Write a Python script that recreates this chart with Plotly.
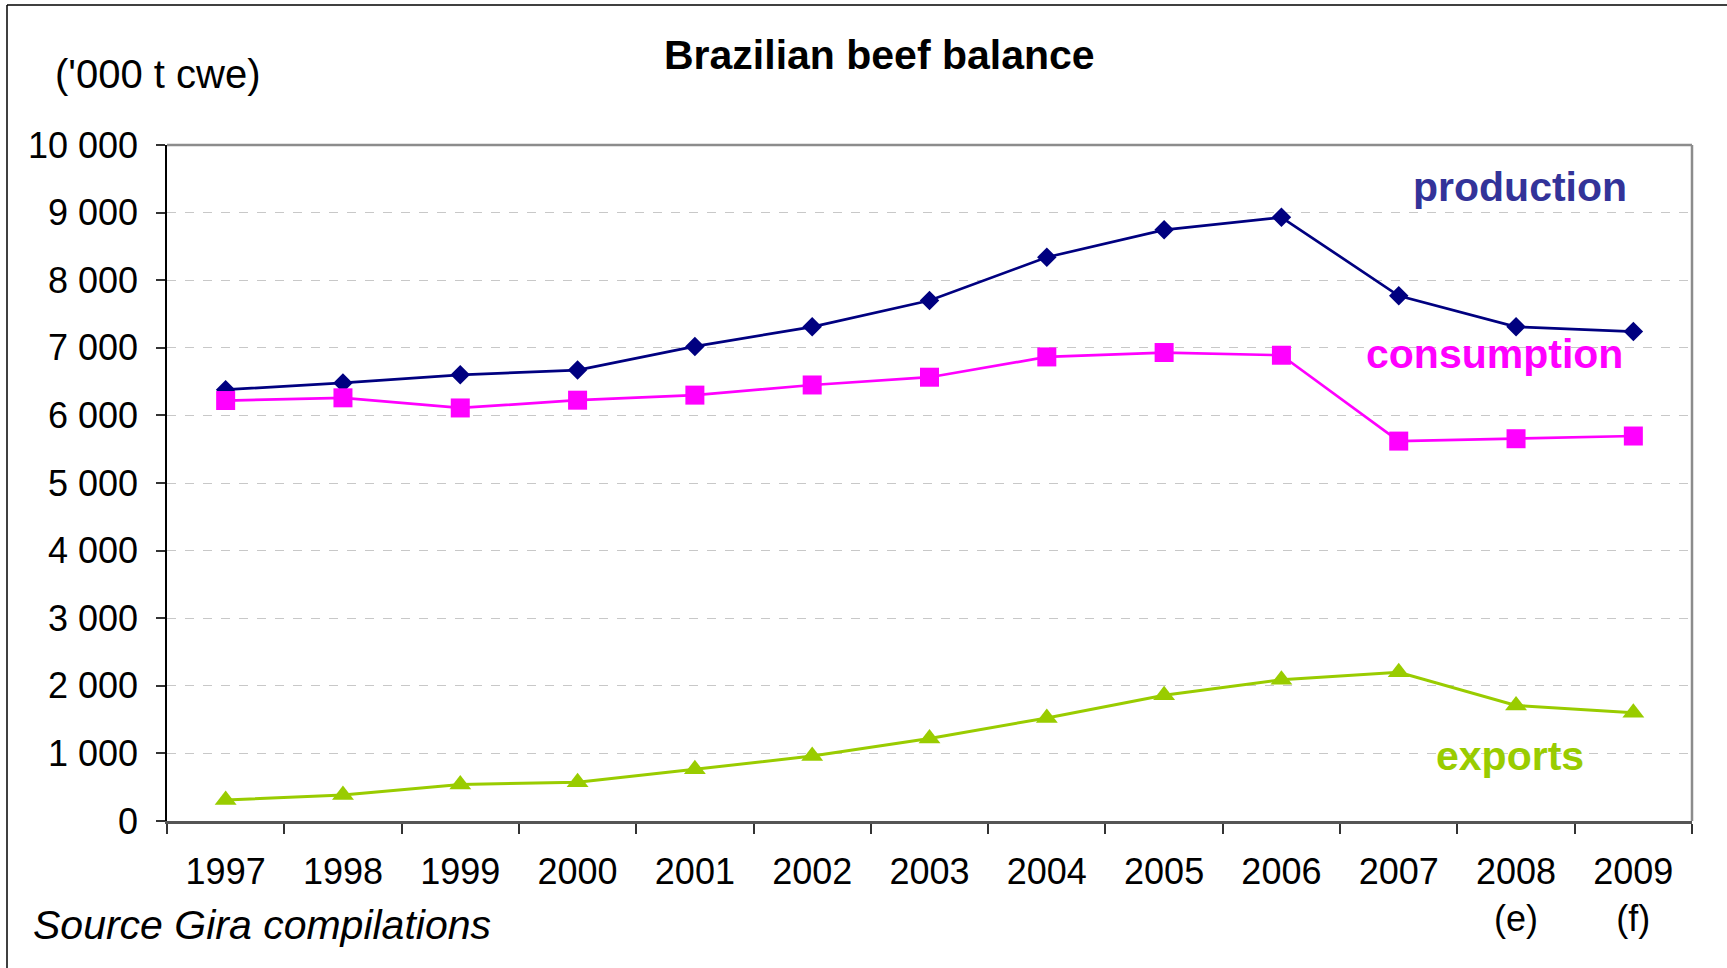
import plotly.graph_objects as go

# Brazilian beef balance, '000 t carcass weight equivalent
years = ["1997", "1998", "1999", "2000", "2001", "2002", "2003",
         "2004", "2005", "2006", "2007", "2008", "2009"]
year_labels = ["1997", "1998", "1999", "2000", "2001", "2002", "2003",
               "2004", "2005", "2006", "2007", "2008<br>(e)", "2009<br>(f)"]
production = [6380, 6480, 6600, 6670, 7020, 7310, 7700,
              8340, 8745, 8930, 7770, 7310, 7240]
consumption = [6220, 6260, 6110, 6225, 6300, 6450, 6565,
               6865, 6930, 6890, 5620, 5655, 5695]
exports = [310, 385, 540, 575, 765, 960, 1220,
           1525, 1860, 2090, 2200, 1710, 1600]
y_ticks = [0, 1000, 2000, 3000, 4000, 5000, 6000, 7000, 8000, 9000, 10000]
y_tick_labels = ["0", "1 000", "2 000", "3 000", "4 000", "5 000",
                 "6 000", "7 000", "8 000", "9 000", "10 000"]

W, H = 1727, 968
ML, MR, MT, MB = 167, 35, 145, 147
PW, PH = W - ML - MR, H - MT - MB


def px(x):
    return (x - ML) / PW


def py(y):
    return (H - MB - y) / PH


FONT = "Liberation Sans, Arial, sans-serif"
NAVY = "#000080"
MAGENTA = "#FF00FF"
GREEN = "#99CC00"

fig = go.Figure()
fig.add_trace(go.Scatter(
    x=years, y=production, mode="lines+markers", name="production",
    line=dict(color=NAVY, width=2.7),
    marker=dict(symbol="diamond", size=15, color=NAVY)))
fig.add_trace(go.Scatter(
    x=years, y=consumption, mode="lines+markers", name="consumption",
    line=dict(color=MAGENTA, width=2.7),
    marker=dict(symbol="square", size=19, color=MAGENTA)))
fig.add_trace(go.Scatter(
    x=years, y=exports, mode="lines+markers", name="exports",
    line=dict(color=GREEN, width=3),
    marker=dict(symbol="triangle-up", size=19, color=GREEN)))

fig.update_layout(
    width=W, height=H,
    margin=dict(l=ML, r=MR, t=MT, b=MB),
    paper_bgcolor="white", plot_bgcolor="white",
    showlegend=False,
    font=dict(family=FONT, color="black", size=36),
    xaxis=dict(
        type="category", tickvals=years, ticktext=year_labels,
        tickson="boundaries", ticks="outside", ticklen=10,
        tickcolor="#333333", tickwidth=1.5,
        showgrid=False, showline=True, linecolor="#555555", linewidth=2.5,
        ticklabelstandoff=17,
        tickfont=dict(size=36, family=FONT),
        range=[-0.5, 12.5], fixedrange=True),
    yaxis=dict(
        range=[0, 10000], tickvals=y_ticks, ticktext=y_tick_labels,
        ticks="outside", ticklen=9, tickcolor="#333333", tickwidth=1.5,
        showgrid=True, gridcolor="#C8C8C8", gridwidth=1, griddash="dash",
        showline=True, linecolor="black", linewidth=1.5,
        zeroline=False, ticklabelstandoff=11,
        tickfont=dict(size=36, family=FONT)),
)

# plot-area frame on top and right, and the outer picture frame
fig.add_shape(type="line", xref="paper", yref="paper", x0=0, x1=1, y0=1, y1=1,
              line=dict(color="#8C8C8C", width=2.5))
fig.add_shape(type="line", xref="paper", yref="paper", x0=1, x1=1, y0=0, y1=1,
              line=dict(color="#8C8C8C", width=2.5))
fig.add_shape(type="line", xref="paper", yref="paper",
              x0=px(7), x1=px(W + 5), y0=py(5), y1=py(5),
              line=dict(color="black", width=1.5))
fig.add_shape(type="line", xref="paper", yref="paper",
              x0=px(7), x1=px(7), y0=py(5), y1=py(H + 5),
              line=dict(color="black", width=1.5))


def label(text, x, y, size, color="black", xanchor="center"):
    fig.add_annotation(text=text, xref="paper", yref="paper",
                       x=px(x), y=py(y), xanchor=xanchor, yanchor="middle",
                       showarrow=False,
                       font=dict(size=size, family=FONT, color=color))


# titles and notes
label("<b>Brazilian beef balance</b>", 879, 55, 41)
label("('000 t cwe)", 158, 74, 40)
label("<i>Source Gira compilations</i>", 31, 925, 41, xanchor="left")

# series labels
label("<b>production</b>", 1520, 187, 41, "#333399")
label("<b>consumption</b>", 1494, 354, 41, MAGENTA)
label("<b>exports</b>", 1510, 756, 41, GREEN)

fig.write_html("out.html")
